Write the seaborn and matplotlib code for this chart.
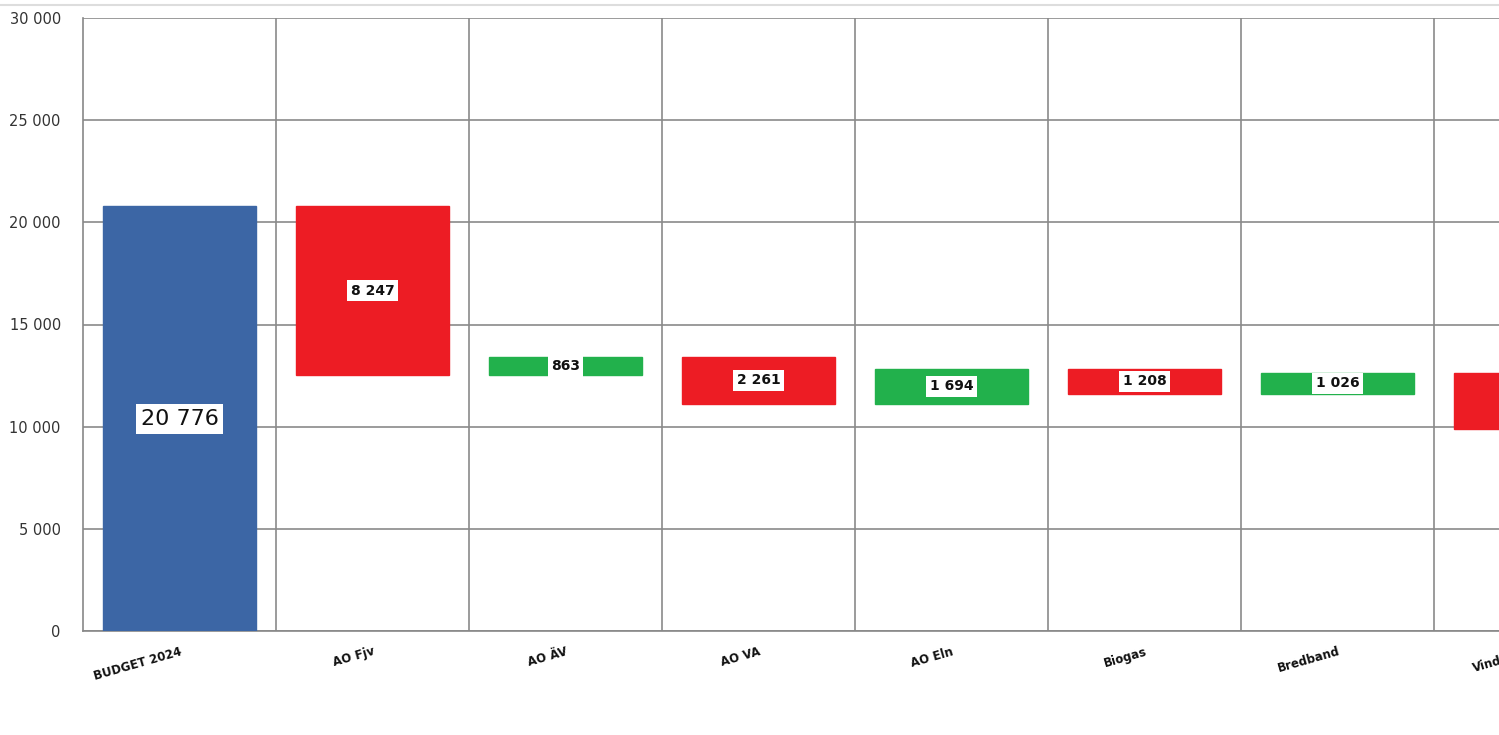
import numpy as np
import pandas as pd
import matplotlib
matplotlib.use("Agg")
import matplotlib.pyplot as plt
import seaborn as sns
from matplotlib.lines import Line2D

categories = ["BUDGET 2024", "AO Fjv", "AO ÄV", "AO VA", "AO Eln", "Biogas", "Bredband", "Vindkraft"]
changes = [20776, -8247, 863, -2261, 1694, -1208, 1026, -2750]
# the last bar's value label lies outside the visible (cropped) area in the reference
labels = ["20 776", "8 247", "863", "2 261", "1 694", "1 208", "1 026", ""]
y_ticks = [0, 5000, 10000, 15000, 20000, 25000, 30000]

BLUE = "#3c66a5"
RED = "#ed1c24"
GREEN = "#22b14c"

# waterfall bottoms / heights
bottoms, heights, colors = [], [], []
running = 0
for i, c in enumerate(changes):
    if i == 0:
        bottoms.append(0); heights.append(c); colors.append(BLUE)
        running = c
    else:
        new = running + c
        bottoms.append(min(running, new)); heights.append(abs(c))
        colors.append(GREEN if c > 0 else RED)
        running = new

df = pd.DataFrame({"cat": categories, "height": heights, "bottom": bottoms})

sns.set_style("white")
plt.rcParams["font.family"] = ["DejaVu Sans"]

W, H = 1499, 735
left_px, bottom_px, top_px = 83, 104, 717
cat_px = 193.0
ax_w_px = (W - left_px) + 300  # extends past the right figure edge (chart is cropped)

fig = plt.figure(figsize=(W / 100, H / 100), dpi=100)
ax = fig.add_axes([left_px / W, bottom_px / H, ax_w_px / W, (top_px - bottom_px) / H])

sns.barplot(data=df, x="cat", y="height", bottom=np.array(bottoms), width=0.79,
            ax=ax, errorbar=None, saturation=1, color=BLUE, zorder=3)
for p, col in zip(ax.patches, colors):
    p.set_facecolor(col)
    p.set_edgecolor(col)

ax.set_xlim(-0.5, -0.5 + ax_w_px / cat_px)
ax.set_ylim(0, 30000)

ax.set_yticks(y_ticks)
ax.set_yticklabels([f"{v:,}".replace(",", " ") for v in y_ticks], fontsize=10.5, color="#333333")
ax.set_xticks(range(len(categories)))
ax.set_xticklabels(categories, fontsize=8.5, fontweight="bold", rotation=16,
                   ha="right", va="top", rotation_mode="anchor", color="#111111")
ax.set_xticks([i + 0.5 for i in range(len(categories))], minor=True)
ax.tick_params(axis="x", which="major", length=0, pad=10)
ax.tick_params(axis="x", which="minor", length=4, color="#888888", width=1.2)
ax.tick_params(axis="y", length=6, color="#888888", width=1.2, pad=10)
ax.grid(axis="y", color="#8a8a8a", linewidth=1.2, zorder=0)
ax.grid(axis="x", which="minor", color="#8a8a8a", linewidth=1.2, zorder=0)
ax.set_axisbelow(True)
for s in ["top", "right"]:
    ax.spines[s].set_visible(False)
for s in ["left", "bottom"]:
    ax.spines[s].set_color("#888888")
    ax.spines[s].set_linewidth(1.2)
ax.set_xlabel("")
ax.set_ylabel("")

# value labels
for i, (b, h, lab) in enumerate(zip(bottoms, heights, labels)):
    if not lab:
        continue
    y = b + h / 2
    if i == 0:
        ax.text(i, y, lab, ha="center", va="center", fontsize=16, color="#111111",
                bbox=dict(facecolor="white", edgecolor="none", pad=3.5), zorder=5)
    else:
        ax.text(i, y, lab, ha="center", va="center", fontsize=10, fontweight="bold",
                color="#111111",
                bbox=dict(facecolor="white", edgecolor="none", pad=2.5), zorder=5)

# faint frame line at top of the slide
fig.add_artist(Line2D([0, 1], [1 - 5 / H, 1 - 5 / H], color="#dddddd", linewidth=1.5))

fig.savefig("out.png", dpi=100)
